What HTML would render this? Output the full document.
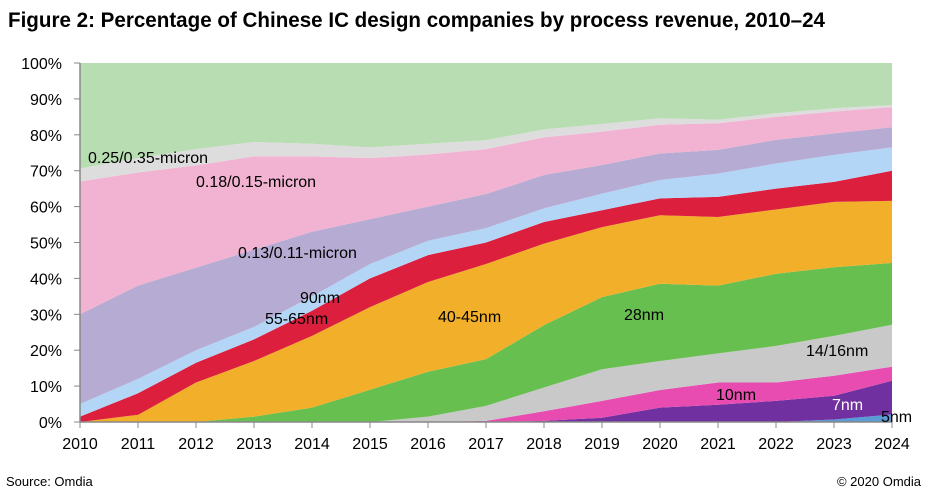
<!DOCTYPE html>
<html><head><meta charset="utf-8"><style>
body{margin:0;background:#fff;}
svg{display:block;font-family:"Liberation Sans",sans-serif;}
</style></head><body>
<svg id="chart" width="929" height="497">
<text x="8" y="27" font-size="21" font-weight="bold" textLength="817" lengthAdjust="spacingAndGlyphs" fill="#000">Figure 2: Percentage of Chinese IC design companies by process revenue, 2010–24</text>
<text x="6" y="486" font-size="13" fill="#000">Source: Omdia</text>
<text x="921" y="486" font-size="13" fill="#000" text-anchor="end">© 2020 Omdia</text>
<g id="areas"></g><g id="axes"></g><g id="labels"></g>
</svg>
<script>
const years=[2010,2011,2012,2013,2014,2015,2016,2017,2018,2019,2020,2021,2022,2023,2024];
const yTicks=[0,10,20,30,40,50,60,70,80,90,100];
const s5nm=[0,0,0,0,0,0,0,0,0,0,0,0,0,0.7,2.1];
const s7nm=[0,0,0,0,0,0,0,0,0.3,1.2,4,4.8,5.9,6.6,9.4];
const s10nm=[0,0,0,0,0,0,0,0.3,2.7,4.7,4.9,6.2,5.1,5.6,3.9];
const s14nm=[0,0,0,0,0,0,1.5,4.2,6.6,8.8,8.1,8.1,10.2,11.1,11.7];
const s28nm=[0,0,0,1.5,4,9,12.5,13,17.4,20.1,21.5,18.9,20.1,19.1,17.2];
const s40nm=[0,2,11,15.5,20,23,25,26.5,22.7,19.5,19.1,19.1,17.9,18.2,17.3];
const s55nm=[1.5,6,5.5,6,7,8,7.5,6,6,4.7,4.7,5.6,5.8,5.6,8.4];
const s90nm=[3.5,4,3.5,3.5,4,4,4,4,3.8,4.6,5.1,6.5,7,7.5,6.5];
const s013=[25,26,23,21.5,18,12.5,9.5,9.5,9.3,8,7.4,6.6,6.6,6,5.6];
const s018=[37,31.5,28.5,26,21,17,14.5,12.5,10.5,9.3,8,7.4,6.4,6.1,5.6];
const s025=[3.6,4,4.5,4,3.5,3,3,2.5,2.2,2.1,1.8,1,1,0.9,0.6];
const sOther=[29.4,26.5,24,22,22.5,23.5,22.5,21.5,18.5,17,15.4,15.8,14,12.6,11.7];
const seriesList=[
 ["area-5nm",s5nm,"#5b9bd5"],["area-7nm",s7nm,"#7030a0"],["area-10nm",s10nm,"#e84cb0"],
 ["area-14-16nm",s14nm,"#c9c9c9"],["area-28nm",s28nm,"#66bf4f"],["area-40-45nm",s40nm,"#f2b02a"],
 ["area-55-65nm",s55nm,"#dc1f3c"],["area-90nm",s90nm,"#b3d6f7"],["area-0.13-micron",s013,"#b6abd2"],
 ["area-0.18-micron",s018,"#f2b2d1"],["area-0.25-micron",s025,"#dddddd"],["area-other",sOther,"#b9ddb2"]];
const X0=80,X1=892,Y0=422,Y1=63;
const xs=i=>X0+(X1-X0)*i/(years.length-1);
const ys=v=>Y0-(Y0-Y1)*v/100;
const NS="http://www.w3.org/2000/svg";
const areas=document.getElementById('areas');
let base=years.map(()=>0);
seriesList.forEach(([name,vals,col])=>{
 const top=base.map((b,i)=>b+vals[i]);
 let d="M"+years.map((y,i)=>xs(i)+","+ys(top[i])).join("L");
 for(let i=years.length-1;i>=0;i--) d+="L"+xs(i)+","+ys(base[i]);
 d+="Z";
 const p=document.createElementNS(NS,"path");
 p.setAttribute("d",d);p.setAttribute("fill",col);
 
 
 areas.appendChild(p);
 base=top;
});
const axes=document.getElementById('axes');
function el(tag,attrs,text){const e=document.createElementNS(NS,tag);for(const k in attrs)e.setAttribute(k,attrs[k]);if(text!==undefined)e.textContent=text;axes.appendChild(e);return e;}
const ya=el("line",{x1:X0,y1:Y1,x2:X0,y2:Y0,stroke:"#888","stroke-width":1.5});


const xa=el("line",{x1:X0,y1:Y0,x2:X1,y2:Y0,stroke:"#888","stroke-width":1.5});


yTicks.forEach(t=>{
 const tk=el("line",{x1:X0-6,y1:ys(t),x2:X0,y2:ys(t),stroke:"#888"});
 
 
 const lb=el("text",{x:62,y:ys(t)+6,"font-size":16,"text-anchor":"end",fill:"#000"},t+"%");
 
 
});
years.forEach((y,i)=>{
 const tk=el("line",{x1:xs(i),y1:Y0,x2:xs(i),y2:Y0+6,stroke:"#888"});
 
 
 const lb=el("text",{x:xs(i),y:449,"font-size":16,"text-anchor":"middle",fill:"#000"},y);
 
 
});
const labels=[["0.25/0.35-micron",88,163,"#000"],["0.18/0.15-micron",196,187,"#000"],["0.13/0.11-micron",238,258,"#000"],
["90nm",300,303,"#000"],["55-65nm",265,324,"#000"],["40-45nm",438,322,"#000"],["28nm",624,320,"#000"],
["14/16nm",806,356,"#000"],["10nm",716,400,"#000"],["7nm",832,410,"#fff"],["5nm",881,422,"#000"]];
const lg=document.getElementById('labels');
labels.forEach(([t,x,y,c])=>{
 const e=document.createElementNS(NS,"text");
 e.setAttribute("x",x);e.setAttribute("y",y);e.setAttribute("font-size",16);e.setAttribute("fill",c);
 e.textContent=t;
 
 
 lg.appendChild(e);
});
</script>
</body></html>
